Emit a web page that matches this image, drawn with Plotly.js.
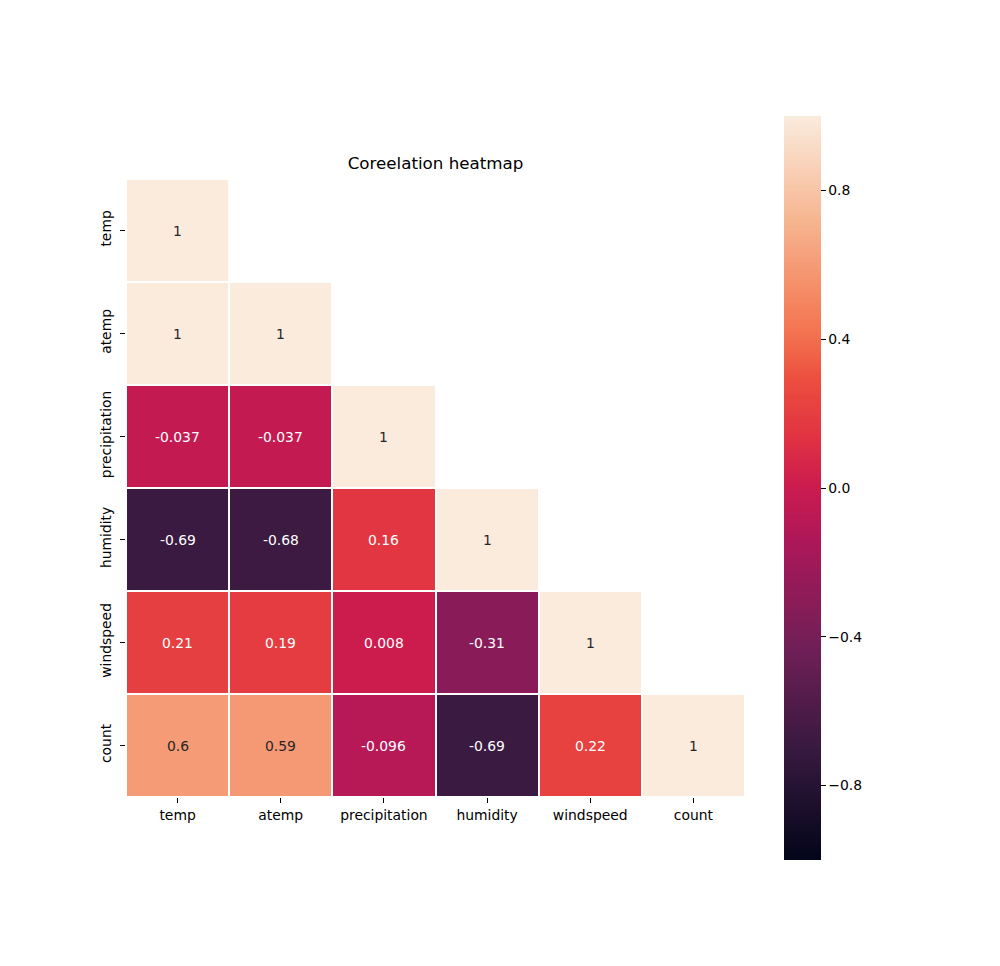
<!DOCTYPE html>
<html>
<head>
<meta charset="utf-8">
<script src="https://cdn.plot.ly/plotly-3.0.1.min.js"></script>
<style>body{margin:0;padding:0;background:#fff;}#chart{width:1000px;height:966px;}</style>
</head>
<body>
<div id="chart"></div>
<script>
const variables = ['temp', 'atemp', 'precipitation', 'humidity', 'windspeed', 'count'];
// lower-triangle correlation values (row i has i+1 entries)
const rowTemp = [1];
const rowAtemp = [1, 1];
const rowPrecipitation = [-0.037, -0.037, 1];
const rowHumidity = [-0.69, -0.68, 0.16, 1];
const rowWindspeed = [0.21, 0.19, 0.008, -0.31, 1];
const rowCount = [0.6, 0.59, -0.096, -0.69, 0.22, 1];
const colorbarTicks = [-0.8, -0.4, 0.0, 0.4, 0.8];

const rows = [rowTemp, rowAtemp, rowPrecipitation, rowHumidity, rowWindspeed, rowCount];
const n = variables.length;
const z = rows.map(r => variables.map((_, j) => (j < r.length ? r[j] : null)));

const rocket = [
  [0.0, '#03051a'],
  [0.143, '#35193e'],
  [0.286, '#701f57'],
  [0.429, '#ad1759'],
  [0.5, '#cb1b4f'],
  [0.571, '#e13342'],
  [0.643, '#ec4d3f'],
  [0.714, '#f37651'],
  [0.857, '#f6b48f'],
  [1.0, '#faebdd']
];

const FS = 13.9;
const annotations = [];
rows.forEach((r, i) => {
  r.forEach((v, j) => {
    annotations.push({
      x: variables[j], y: variables[i], xref: 'x', yref: 'y',
      text: String(v), showarrow: false,
      font: {family: 'DejaVu Sans', size: FS, color: v > 0.45 ? '#262626' : '#ffffff'}
    });
  });
});

const trace = {
  type: 'heatmap',
  x: variables,
  y: variables,
  z: z,
  zmin: -1, zmax: 1,
  colorscale: rocket,
  xgap: 2, ygap: 2,
  hoverongaps: false,
  colorbar: {
    x: (784 - 126) / 619, xanchor: 'left',
    y: 0.5, yanchor: 'middle',
    len: 744, lenmode: 'pixels',
    thickness: 37, thicknessmode: 'pixels',
    outlinewidth: 0,
    xpad: 0, ypad: 0,
    ticks: 'outside', ticklen: 5, tickwidth: 1, tickcolor: '#000',
    tickprefix: '\u00a0',
    tickvals: colorbarTicks, tickformat: '.1f',
    tickfont: {family: 'DejaVu Sans', size: FS, color: '#000'}
  }
};

const layout = {
  width: 1000, height: 966,
  margin: {l: 126, r: 255, t: 179, b: 169},
  paper_bgcolor: '#fff', plot_bgcolor: '#fff',
  font: {family: 'DejaVu Sans', color: '#000'},
  title: {
    text: 'Coreelation heatmap',
    font: {family: 'DejaVu Sans', size: 16.7, color: '#000'},
    xref: 'paper', x: 0.5, xanchor: 'center',
    yref: 'container', y: 1 - 163 / 966, yanchor: 'middle'
  },
  xaxis: {
    type: 'category', showgrid: false, zeroline: false, showline: false,
    ticks: 'outside', ticklen: 5, tickcolor: '#000',
    tickfont: {family: 'DejaVu Sans', size: FS, color: '#000'},
    range: [-0.5, n - 0.5]
  },
  yaxis: {
    type: 'category', showgrid: false, zeroline: false, showline: false,
    autorange: 'reversed',
    ticks: 'outside', ticklen: 5, tickcolor: '#000', tickangle: -90,
    ticklabelstandoff: 3,
    tickfont: {family: 'DejaVu Sans', size: FS, color: '#000'}
  },
  annotations: annotations
};

Plotly.newPlot('chart', [trace], layout, {displayModeBar: false, staticPlot: true});
</script>
</body>
</html>
